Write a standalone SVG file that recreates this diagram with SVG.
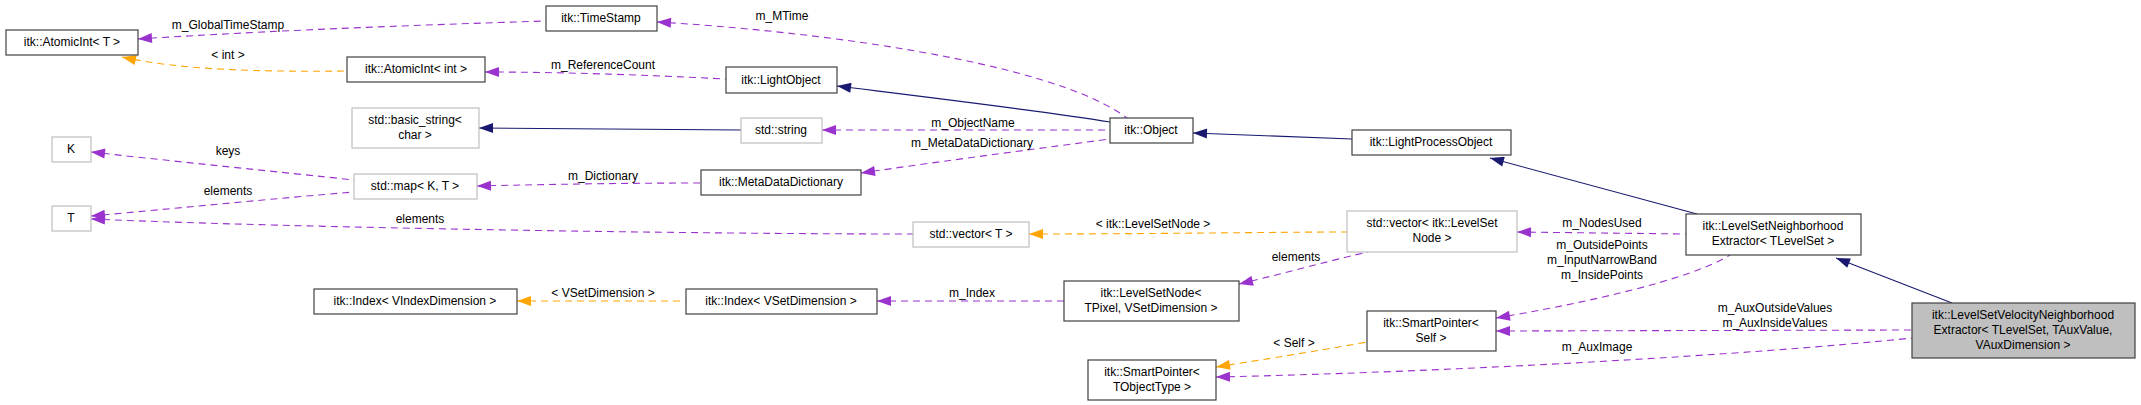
<svg xmlns="http://www.w3.org/2000/svg" width="2141" height="405" viewBox="0 0 2141 405">
<style>
text{font-family:"Liberation Sans",Arial,sans-serif;font-size:12px;fill:#000;text-anchor:middle}
.n rect{fill:#fff;stroke:#404040;stroke-width:1.2}
.g rect{fill:#fff;stroke:#bfbfbf;stroke-width:1.2}
.sel rect{fill:#bfbfbf;stroke:#404040;stroke-width:1.2}
.e path{fill:none;stroke-width:1.1}
.p{stroke:#9a32cd;stroke-dasharray:7,5;marker-start:url(#ap)}
.o{stroke:#ffa500;stroke-dasharray:7,5;marker-start:url(#ao)}
.b{stroke:#191970;marker-start:url(#ab)}
</style>
<defs>
<marker id="ap" markerUnits="userSpaceOnUse" markerWidth="16" markerHeight="12" refX="0" refY="5" orient="auto"><path d="M0,5L14,0L14,10Z" fill="#9a32cd"/></marker>
<marker id="ao" markerUnits="userSpaceOnUse" markerWidth="16" markerHeight="12" refX="0" refY="5" orient="auto"><path d="M0,5L14,0L14,10Z" fill="#ffa500"/></marker>
<marker id="ab" markerUnits="userSpaceOnUse" markerWidth="16" markerHeight="12" refX="0" refY="5" orient="auto"><path d="M0,5L14,0L14,10Z" fill="#191970"/></marker>
</defs>
<rect width="2141" height="405" fill="#fff"/>
<g id="edges" class="e">
<path class="p" d="M138,39 C280,30 420,25 546,21"/>
<path class="o" d="M122,57 C180,70 260,72 347,71"/>
<path class="p" d="M485,72 C560,72 650,75 726,79"/>
<path class="p" d="M657,22 C800,30 1050,60 1127,118"/>
<path class="b" d="M837,86 C950,100 1050,112 1110,122"/>
<path class="b" d="M479,128 L741,130"/>
<path class="p" d="M822,130 L1110,130"/>
<path class="p" d="M861,173 C950,160 1050,147 1110,139"/>
<path class="p" d="M477,186 C560,184 640,183 701,183"/>
<path class="p" d="M91,152 C180,162 280,172 354,180"/>
<path class="p" d="M91,216 C180,208 280,198 354,192"/>
<path class="p" d="M91,219 C300,228 700,234 913,234"/>
<path class="o" d="M1029,234 C1150,234 1280,232 1347,232"/>
<path class="p" d="M1239,284 C1290,272 1340,258 1368,252"/>
<path class="o" d="M517,301 L686,301"/>
<path class="p" d="M877,301 L1064,301"/>
<path class="b" d="M1193,133 L1352,139"/>
<path class="b" d="M1490,158 L1697,214"/>
<path class="p" d="M1517,232 L1686,234"/>
<path class="p" d="M1496,318 C1580,304 1690,280 1730,255"/>
<path class="b" d="M1836,258 L1952,303"/>
<path class="p" d="M1496,331 L1912,330"/>
<path class="p" d="M1216,377 C1450,372 1750,355 1912,338"/>
<path class="o" d="M1216,367 C1280,357 1340,347 1367,342"/>
</g>
<g>
<text x="228" y="29">m_GlobalTimeStamp</text>
<text x="228" y="59">&lt; int &gt;</text>
<text x="603" y="69">m_ReferenceCount</text>
<text x="782" y="20">m_MTime</text>
<text x="973" y="127">m_ObjectName</text>
<text x="972" y="147">m_MetaDataDictionary</text>
<text x="603" y="180">m_Dictionary</text>
<text x="228" y="155">keys</text>
<text x="228" y="195">elements</text>
<text x="420" y="223">elements</text>
<text x="1153" y="228">&lt; itk::LevelSetNode &gt;</text>
<text x="1296" y="261">elements</text>
<text x="603" y="297">&lt; VSetDimension &gt;</text>
<text x="972" y="297">m_Index</text>
<text x="1294" y="347">&lt; Self &gt;</text>
<text x="1602" y="227">m_NodesUsed</text>
<text x="1602" y="249">m_OutsidePoints</text>
<text x="1602" y="264">m_InputNarrowBand</text>
<text x="1602" y="279">m_InsidePoints</text>
<text x="1775" y="312">m_AuxOutsideValues</text>
<text x="1775" y="327">m_AuxInsideValues</text>
<text x="1597" y="351">m_AuxImage</text>
</g>
<g id="AtomicIntT" class="n"><rect x="6" y="30" width="132" height="25"/><text x="72" y="46">itk::AtomicInt&lt; T &gt;</text></g>
<g id="TimeStamp" class="n"><rect x="546" y="6" width="111" height="25"/><text x="601" y="22">itk::TimeStamp</text></g>
<g id="AtomicIntInt" class="n"><rect x="347" y="57" width="138" height="25"/><text x="416" y="73">itk::AtomicInt&lt; int &gt;</text></g>
<g id="LightObject" class="n"><rect x="726" y="67" width="111" height="26"/><text x="781" y="84">itk::LightObject</text></g>
<g id="basicString" class="g"><rect x="352" y="108" width="127" height="40"/><text x="415" y="124">std::basic_string&lt;</text><text x="415" y="139">char &gt;</text></g>
<g id="stdString" class="g"><rect x="741" y="118" width="81" height="25"/><text x="781" y="134">std::string</text></g>
<g id="Object" class="n"><rect x="1110" y="118" width="83" height="25"/><text x="1151" y="134">itk::Object</text></g>
<g id="MetaDataDictionary" class="n"><rect x="701" y="170" width="160" height="25"/><text x="781" y="186">itk::MetaDataDictionary</text></g>
<g id="stdMap" class="g"><rect x="354" y="174" width="123" height="25"/><text x="415" y="190">std::map&lt; K, T &gt;</text></g>
<g id="K" class="g"><rect x="52" y="137" width="39" height="25"/><text x="71" y="153">K</text></g>
<g id="T" class="g"><rect x="52" y="206" width="39" height="25"/><text x="71" y="222">T</text></g>
<g id="vectorT" class="g"><rect x="913" y="222" width="116" height="25"/><text x="971" y="238">std::vector&lt; T &gt;</text></g>
<g id="vectorNode" class="g"><rect x="1347" y="211" width="170" height="41"/><text x="1432" y="227">std::vector&lt; itk::LevelSet</text><text x="1432" y="242">Node &gt;</text></g>
<g id="LevelSetNode" class="n"><rect x="1064" y="281" width="175" height="40"/><text x="1151" y="297">itk::LevelSetNode&lt;</text><text x="1151" y="312">TPixel, VSetDimension &gt;</text></g>
<g id="IndexVSet" class="n"><rect x="686" y="289" width="191" height="25"/><text x="781" y="305">itk::Index&lt; VSetDimension &gt;</text></g>
<g id="IndexVIndex" class="n"><rect x="314" y="289" width="203" height="25"/><text x="415" y="305">itk::Index&lt; VIndexDimension &gt;</text></g>
<g id="LightProcessObject" class="n"><rect x="1352" y="130" width="159" height="25"/><text x="1431" y="146">itk::LightProcessObject</text></g>
<g id="LSNE" class="n"><rect x="1686" y="214" width="175" height="41"/><text x="1773" y="230">itk::LevelSetNeighborhood</text><text x="1773" y="245">Extractor&lt; TLevelSet &gt;</text></g>
<g id="SmartPointerSelf" class="n"><rect x="1367" y="311" width="129" height="40"/><text x="1431" y="327">itk::SmartPointer&lt;</text><text x="1431" y="342">Self &gt;</text></g>
<g id="SmartPointerTObj" class="n"><rect x="1088" y="360" width="128" height="40"/><text x="1152" y="376">itk::SmartPointer&lt;</text><text x="1152" y="391">TObjectType &gt;</text></g>
<g id="LSVNE" class="sel"><rect x="1912" y="303" width="223" height="55"/><text x="2023" y="319">itk::LevelSetVelocityNeighborhood</text><text x="2023" y="334">Extractor&lt; TLevelSet, TAuxValue,</text><text x="2023" y="349">VAuxDimension &gt;</text></g>
</svg>
